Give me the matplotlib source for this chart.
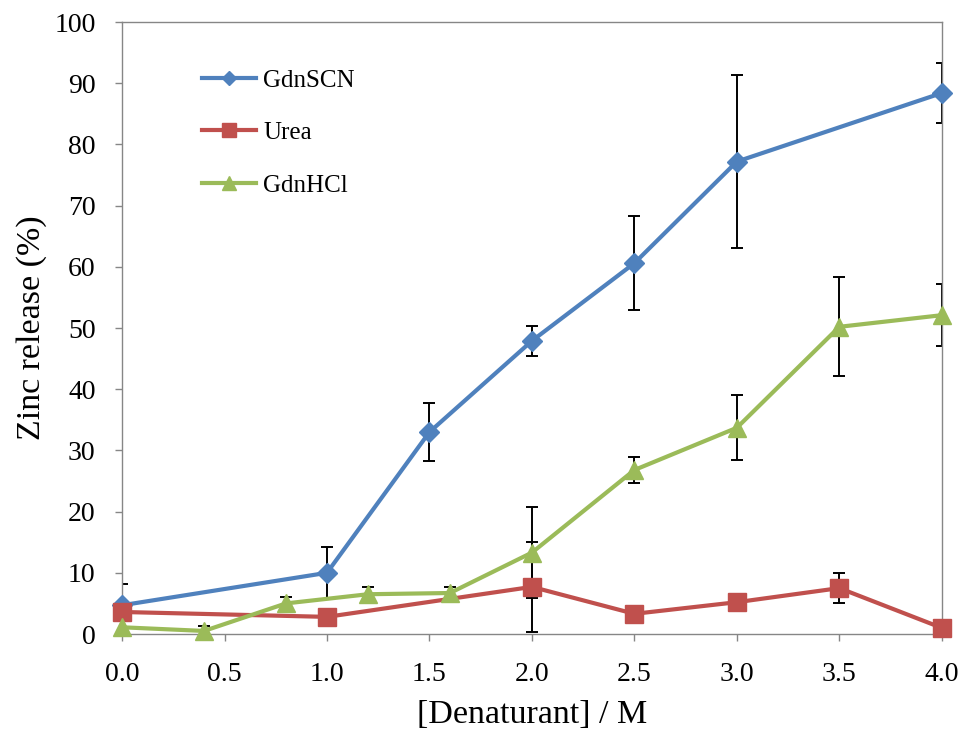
import matplotlib
matplotlib.use("Agg")
import matplotlib.pyplot as plt

# zinc release vs denaturant concentration
scn_x = [0.0, 1.0, 1.5, 2.0, 2.5, 3.0, 4.0]
scn_y = [4.7, 10.0, 33.0, 47.9, 60.6, 77.2, 88.4]
scn_err = [3.5, 4.2, 4.7, 2.4, 7.7, 14.2, 4.9]

urea_x = [0.0, 1.0, 2.0, 2.5, 3.0, 3.5, 4.0]
urea_y = [3.6, 2.8, 7.7, 3.3, 5.2, 7.5, 1.0]
urea_err = [0.0, 0.0, 7.3, 0.0, 0.0, 2.4, 0.0]

hcl_x = [0.0, 0.4, 0.8, 1.2, 1.6, 2.0, 2.5, 3.0, 3.5, 4.0]
hcl_y = [1.1, 0.5, 5.0, 6.5, 6.7, 13.3, 26.8, 33.7, 50.2, 52.1]
hcl_err = [0.0, 0.8, 1.0, 1.2, 1.0, 7.4, 2.2, 5.3, 8.1, 5.1]

x_ticks = [0.0, 0.5, 1.0, 1.5, 2.0, 2.5, 3.0, 3.5, 4.0]
y_ticks = list(range(0, 101, 10))

plt.rcParams['font.family'] = ['Liberation Serif', 'DejaVu Serif']

fig = plt.figure(figsize=(9.61, 7.35), dpi=100)
ax = fig.add_axes([0.127, 0.1374, 0.853, 0.8326])

series = [
    (scn_x, scn_y, scn_err, '#4F81BD', 'D', 10, 'GdnSCN'),
    (urea_x, urea_y, urea_err, '#C0504D', 's', 13.5, 'Urea'),
    (hcl_x, hcl_y, hcl_err, '#9BBB59', '^', 13.5, 'GdnHCl'),
]
for x, y, err, col, mk, ms, name in series:
    ax.errorbar(x, y, yerr=err, fmt='none', ecolor='black', elinewidth=1.4,
                capsize=4.5, capthick=1.4, zorder=2)
    ax.plot(x, y, color=col, lw=3.0, marker=mk, markersize=ms,
            markeredgecolor=col, label=name, zorder=3, clip_on=False)

ax.set_xlim(0, 4)
ax.set_ylim(0, 100)
ax.set_xticks(x_ticks)
ax.set_xticklabels([f'{v:.1f}' for v in x_ticks])
ax.set_yticks(y_ticks)
ax.tick_params(axis='both', direction='out', length=5, width=1, color='#868686',
               labelsize=20)
ax.tick_params(axis='x', pad=15)
ax.tick_params(axis='y', pad=14)
for s in ax.spines.values():
    s.set_color('#868686')
    s.set_linewidth(1)

ax.set_xlabel('[Denaturant] / M', fontsize=24.5, labelpad=9)
ax.set_ylabel('Zinc release (%)', fontsize=24.5, labelpad=5)

ax.legend(loc='upper left', bbox_to_anchor=(0.07, 0.96), frameon=False,
          fontsize=18, handlelength=2.15, labelspacing=1.2, handletextpad=0.3,
          markerscale=0.75)

fig.savefig('out.png', dpi=100)
